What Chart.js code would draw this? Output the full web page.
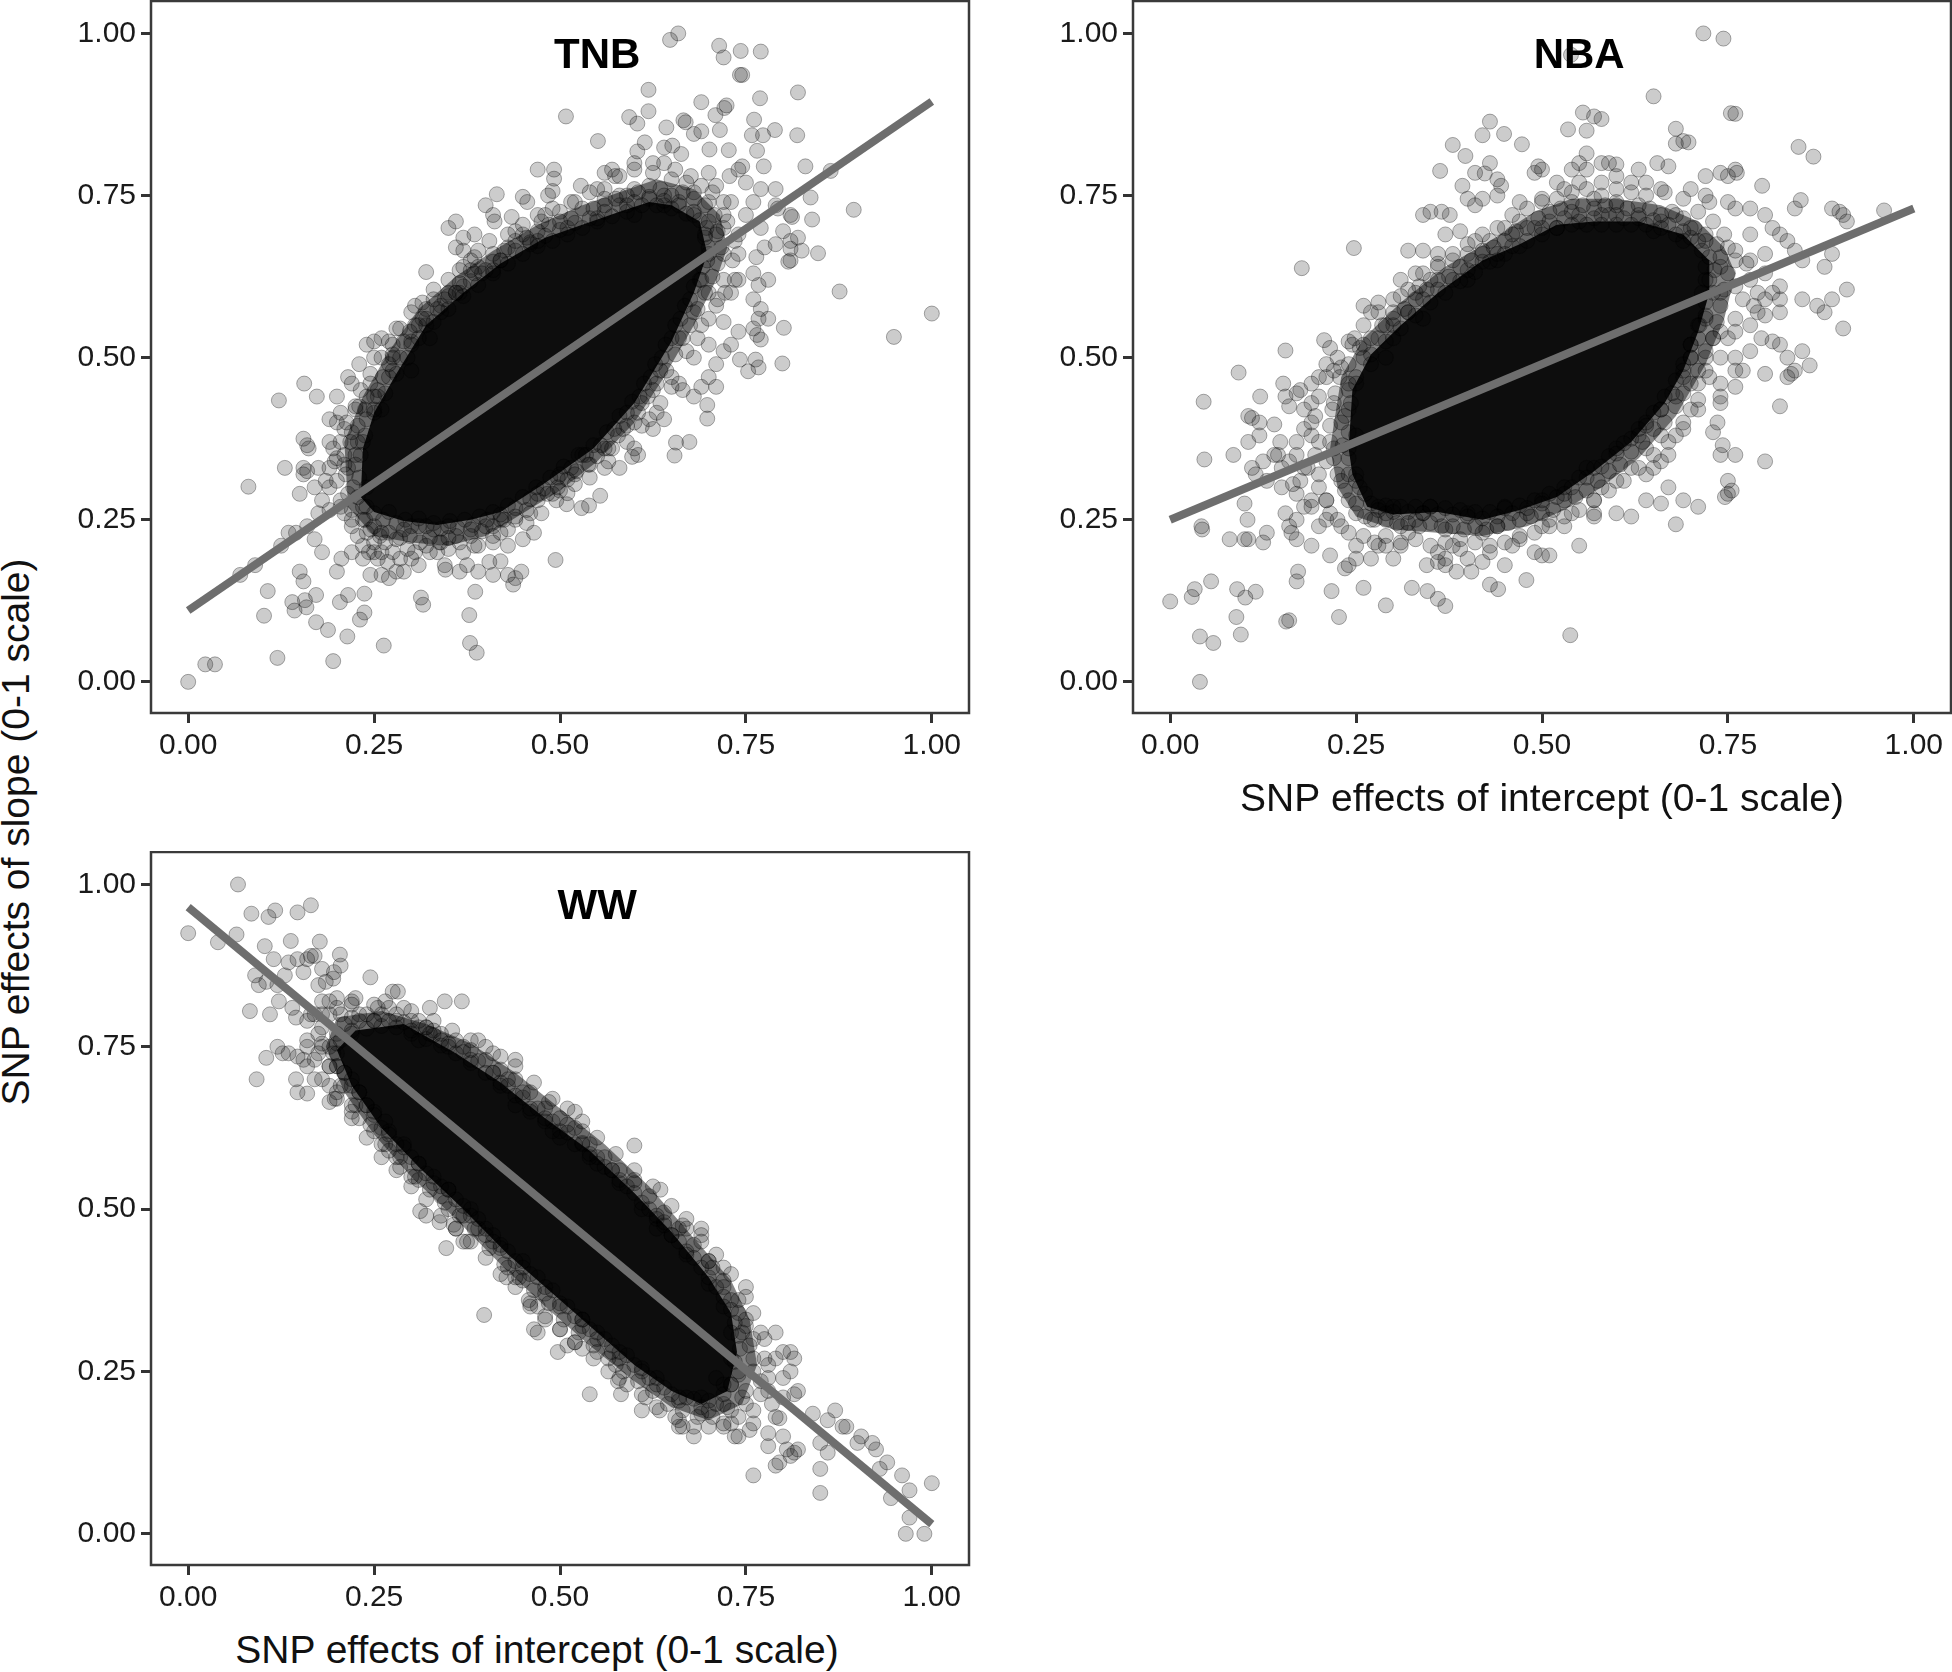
<!DOCTYPE html>
<html>
<head>
<meta charset="utf-8">
<script src="https://cdn.jsdelivr.net/npm/chart.js@4"></script>
<style>
body { margin: 0; background: #fff; width: 1952px; height: 1672px; overflow: hidden; position: relative; }
canvas { position: absolute; }
.lab { position: absolute; transform: translate(-50%, -50%); white-space: nowrap;
  font: 39px "Liberation Sans", Arial, sans-serif; color: #111; }
#ylab { left: 16px; top: 832px; transform: translate(-50%, -50%) rotate(-90deg); }
#xlab { left: 537px; top: 1650px; }
</style>
</head>
<body>
<div id="ylab" class="lab">SNP effects of slope (0-1 scale)</div>
<div id="xlab" class="lab">SNP effects of intercept (0-1 scale)</div>
<canvas id="tnb" width="920" height="762" style="left:60px;top:0"></canvas>
<canvas id="nba" width="912" height="824" style="left:1040px;top:0"></canvas>
<canvas id="ww" width="920" height="763" style="left:60px;top:851px"></canvas>
<script>
const tickValues = [0, 0.25, 0.5, 0.75, 1];
const xTitle = 'SNP effects of intercept (0-1 scale)';

// fitted lines at x = 0 and x = 1
const tnbLine = [[0, 0.11], [1, 0.895]];
const nbaLine = [[0, 0.25], [1, 0.73]];
const wwLine = [[0, 0.965], [1, 0.015]];

// the saturated middle of each cloud: thousands of overlapping dots that cannot be read one by one,
// so it is kept as a traced outline, with a second one for the half dark zone around it
const tnbCore = [[0.232,0.285],[0.25,0.262],[0.29,0.248],[0.335,0.242],[0.38,0.25],[0.42,0.262],[0.478,0.305],[0.545,0.36],[0.6,0.43],[0.65,0.525],[0.68,0.6],[0.698,0.66],[0.688,0.71],[0.65,0.735],[0.62,0.74],[0.58,0.725],[0.53,0.705],[0.48,0.685],[0.42,0.645],[0.37,0.6],[0.32,0.55],[0.28,0.475],[0.25,0.415],[0.235,0.36]];
const tnbHalo = [[0.215,0.27],[0.25,0.225],[0.3,0.215],[0.35,0.21],[0.4,0.225],[0.45,0.26],[0.5,0.295],[0.55,0.34],[0.6,0.4],[0.64,0.47],[0.68,0.55],[0.71,0.62],[0.725,0.67],[0.715,0.72],[0.68,0.76],[0.63,0.775],[0.58,0.755],[0.53,0.735],[0.47,0.705],[0.41,0.665],[0.36,0.625],[0.31,0.575],[0.27,0.51],[0.235,0.44],[0.21,0.37]];
const nbaCore = [[0.24,0.36],[0.245,0.32],[0.265,0.27],[0.3,0.258],[0.36,0.262],[0.42,0.25],[0.47,0.265],[0.52,0.285],[0.57,0.325],[0.62,0.37],[0.665,0.43],[0.69,0.48],[0.71,0.54],[0.725,0.6],[0.725,0.65],[0.69,0.69],[0.63,0.71],[0.57,0.71],[0.52,0.705],[0.47,0.675],[0.42,0.65],[0.36,0.6],[0.31,0.55],[0.27,0.505],[0.245,0.45]];
const nbaHalo = [[0.215,0.36],[0.225,0.3],[0.25,0.255],[0.3,0.235],[0.36,0.23],[0.42,0.225],[0.48,0.24],[0.53,0.265],[0.58,0.3],[0.63,0.345],[0.68,0.41],[0.72,0.49],[0.745,0.56],[0.76,0.63],[0.745,0.67],[0.71,0.71],[0.66,0.735],[0.6,0.745],[0.54,0.745],[0.49,0.725],[0.43,0.68],[0.37,0.64],[0.31,0.585],[0.26,0.53],[0.23,0.47]];
const wwCore = [[0.2,0.745],[0.225,0.775],[0.29,0.785],[0.36,0.74],[0.42,0.695],[0.48,0.64],[0.54,0.59],[0.6,0.525],[0.65,0.465],[0.7,0.395],[0.73,0.34],[0.738,0.28],[0.725,0.22],[0.69,0.2],[0.65,0.22],[0.6,0.26],[0.55,0.31],[0.49,0.37],[0.43,0.43],[0.37,0.5],[0.31,0.565],[0.26,0.625],[0.22,0.69]];
const wwHalo = [[0.185,0.75],[0.2,0.795],[0.26,0.805],[0.32,0.785],[0.38,0.755],[0.44,0.71],[0.5,0.655],[0.56,0.6],[0.62,0.535],[0.68,0.455],[0.73,0.39],[0.755,0.33],[0.765,0.26],[0.745,0.2],[0.7,0.175],[0.65,0.195],[0.6,0.235],[0.54,0.29],[0.48,0.35],[0.42,0.415],[0.36,0.485],[0.3,0.55],[0.25,0.615],[0.21,0.68]];

// dots crowded along the edge of the outlines, estimated
const tnbEdge = [
[0.24,0.27],[0.25,0.26],[0.262,0.25],[0.27,0.262],[0.28,0.245],[0.292,0.25],[0.3,0.24],[0.31,0.252],[0.32,0.24],[0.33,0.245],[0.34,0.236],[0.352,0.248],[0.362,0.238],[0.372,0.25],[0.383,0.242],[0.392,0.255],[0.402,0.25],[0.41,0.262],[0.42,0.258],[0.43,0.272],[0.44,0.268],[0.45,0.285],[0.46,0.282],[0.468,0.3],[0.478,0.298],[0.487,0.315],[0.497,0.315],[0.505,0.332],[0.515,0.33],[0.525,0.35],[0.535,0.35],[0.545,0.365],[0.555,0.365],[0.563,0.385],[0.573,0.39],[0.58,0.41],[0.59,0.415],[0.597,0.432],[0.607,0.44],[0.613,0.46],[0.622,0.47],[0.628,0.49],[0.637,0.5],[0.642,0.52],[0.65,0.53],[0.655,0.55],[0.662,0.56],[0.668,0.58],[0.675,0.59],[0.68,0.61],[0.688,0.62],[0.692,0.64],[0.698,0.65],[0.7,0.67],[0.695,0.685],[0.697,0.7],[0.688,0.712],[0.68,0.725],[0.67,0.722],[0.66,0.735],[0.65,0.73],[0.64,0.742],[0.63,0.735],[0.62,0.748],[0.61,0.735],[0.6,0.74],[0.59,0.725],[0.58,0.735],[0.57,0.718],[0.56,0.725],[0.55,0.71],[0.54,0.715],[0.53,0.7],[0.52,0.708],[0.51,0.69],[0.5,0.697],[0.49,0.68],[0.48,0.688],[0.47,0.672],[0.46,0.678],[0.45,0.66],[0.44,0.665],[0.43,0.645],[0.42,0.65],[0.41,0.63],[0.4,0.635],[0.39,0.612],[0.38,0.618],[0.37,0.595],[0.36,0.6],[0.35,0.575],[0.34,0.58],[0.33,0.555],[0.32,0.56],[0.31,0.53],[0.3,0.525],[0.295,0.5],[0.285,0.5],[0.28,0.475],[0.27,0.47],[0.265,0.445],[0.255,0.44],[0.25,0.415],[0.24,0.405],[0.238,0.38],[0.228,0.37],[0.232,0.35],[0.225,0.335],[0.23,0.315],[0.222,0.3],[0.228,0.285],
[0.235,0.25],[0.245,0.235],[0.258,0.225],[0.27,0.23],[0.285,0.222],[0.298,0.225],[0.312,0.215],[0.325,0.222],[0.338,0.215],[0.35,0.222],[0.365,0.215],[0.38,0.225],[0.395,0.232],[0.41,0.24],[0.425,0.25],[0.44,0.255],[0.455,0.265],[0.47,0.28],[0.483,0.29],[0.497,0.3],[0.51,0.312],[0.522,0.325],[0.538,0.335],[0.55,0.348],[0.565,0.36],[0.578,0.38],[0.59,0.395],[0.605,0.415],[0.618,0.44],[0.63,0.46],[0.643,0.48],[0.655,0.505],[0.665,0.53],[0.675,0.55],[0.685,0.575],[0.695,0.6],[0.705,0.625],[0.712,0.645],[0.717,0.67],[0.712,0.695],[0.708,0.72],[0.695,0.735],[0.68,0.745],[0.665,0.755],[0.65,0.75],[0.635,0.76],[0.62,0.765],[0.605,0.755],[0.59,0.75],[0.575,0.745],[0.56,0.745],[0.545,0.73],[0.53,0.73],[0.515,0.715],[0.5,0.71],[0.485,0.705],[0.47,0.695],[0.455,0.685],[0.44,0.68],[0.425,0.665],[0.41,0.648],[0.395,0.63],[0.38,0.635],[0.365,0.615],[0.35,0.6],[0.335,0.575],[0.32,0.575],[0.305,0.55],[0.29,0.525],[0.275,0.5],[0.262,0.47],[0.25,0.44],[0.238,0.42],[0.228,0.395],[0.218,0.37],[0.21,0.35],[0.212,0.32],[0.215,0.29],[0.22,0.265],
[0.22,0.24],[0.228,0.225],[0.235,0.21],[0.243,0.2],[0.25,0.215],[0.26,0.2],[0.268,0.185],[0.275,0.2],[0.285,0.19],[0.295,0.205],[0.305,0.2],[0.32,0.21],[0.335,0.2],[0.35,0.205],[0.37,0.2],[0.39,0.21],[0.41,0.225],[0.43,0.235],[0.455,0.245],[0.475,0.26],[0.495,0.28],[0.52,0.305],[0.54,0.315],[0.565,0.34],[0.59,0.37],[0.61,0.395],[0.635,0.43],[0.65,0.455],[0.67,0.51],[0.685,0.53],[0.7,0.56],[0.712,0.59],[0.722,0.6],[0.735,0.62],[0.732,0.65],[0.735,0.68],[0.725,0.71],[0.72,0.74],[0.705,0.755],[0.69,0.765],[0.67,0.77],[0.65,0.775],[0.625,0.785],[0.6,0.79],[0.58,0.78],[0.56,0.76],[0.54,0.755],[0.515,0.74],[0.49,0.73],[0.47,0.72],[0.45,0.705],[0.43,0.69],[0.405,0.68],[0.385,0.655],[0.37,0.64],[0.35,0.62],[0.33,0.605],[0.315,0.585],[0.3,0.57],[0.285,0.545],[0.27,0.525],[0.26,0.5],[0.245,0.475],[0.232,0.45],[0.225,0.425],[0.213,0.4],[0.205,0.37],[0.197,0.34],[0.2,0.31],[0.205,0.28],[0.21,0.26],[0.19,0.3],[0.18,0.28],[0.185,0.31],[0.195,0.36],[0.17,0.3],[0.2,0.44],[0.215,0.47],[0.23,0.49],[0.25,0.5]
];
const nbaEdge = [
[0.255,0.3],[0.262,0.29],[0.27,0.275],[0.28,0.265],[0.29,0.272],[0.3,0.262],[0.31,0.27],[0.32,0.262],[0.33,0.27],[0.34,0.26],[0.35,0.27],[0.36,0.258],[0.37,0.268],[0.38,0.258],[0.39,0.265],[0.4,0.255],[0.41,0.262],[0.42,0.252],[0.43,0.262],[0.44,0.255],[0.45,0.268],[0.46,0.26],[0.47,0.272],[0.48,0.268],[0.49,0.28],[0.5,0.275],[0.51,0.29],[0.52,0.285],[0.53,0.3],[0.54,0.3],[0.55,0.315],[0.56,0.315],[0.57,0.33],[0.58,0.332],[0.59,0.348],[0.6,0.352],[0.61,0.368],[0.62,0.375],[0.63,0.39],[0.64,0.395],[0.65,0.415],[0.66,0.42],[0.665,0.44],[0.675,0.445],[0.68,0.465],[0.69,0.47],[0.69,0.49],[0.7,0.5],[0.7,0.52],[0.71,0.53],[0.712,0.55],[0.72,0.565],[0.72,0.585],[0.73,0.6],[0.725,0.62],[0.732,0.635],[0.725,0.655],[0.715,0.665],[0.71,0.68],[0.7,0.685],[0.69,0.695],[0.68,0.69],[0.67,0.705],[0.66,0.7],[0.65,0.712],[0.64,0.705],[0.63,0.715],[0.62,0.705],[0.61,0.715],[0.6,0.705],[0.59,0.72],[0.58,0.705],[0.57,0.715],[0.56,0.705],[0.55,0.72],[0.54,0.705],[0.53,0.715],[0.52,0.7],[0.51,0.71],[0.5,0.69],[0.49,0.7],[0.48,0.68],[0.47,0.672],[0.46,0.672],[0.45,0.66],[0.44,0.66],[0.43,0.648],[0.42,0.648],[0.41,0.632],[0.4,0.635],[0.39,0.618],[0.38,0.62],[0.37,0.6],[0.36,0.605],[0.35,0.585],[0.34,0.59],[0.33,0.565],[0.32,0.57],[0.31,0.545],[0.3,0.55],[0.29,0.525],[0.28,0.53],[0.27,0.505],[0.26,0.5],[0.25,0.47],[0.24,0.46],[0.243,0.43],[0.235,0.41],[0.24,0.385],[0.232,0.365],[0.24,0.345],[0.24,0.32],
[0.235,0.295],[0.25,0.275],[0.262,0.255],[0.275,0.25],[0.29,0.25],[0.305,0.245],[0.32,0.245],[0.335,0.24],[0.35,0.245],[0.365,0.24],[0.38,0.24],[0.395,0.235],[0.41,0.24],[0.425,0.235],[0.44,0.24],[0.455,0.245],[0.47,0.25],[0.485,0.255],[0.5,0.26],[0.515,0.265],[0.53,0.28],[0.545,0.285],[0.56,0.295],[0.575,0.31],[0.59,0.325],[0.605,0.335],[0.62,0.355],[0.635,0.37],[0.65,0.39],[0.665,0.4],[0.68,0.425],[0.69,0.445],[0.7,0.46],[0.71,0.48],[0.72,0.51],[0.73,0.53],[0.735,0.555],[0.74,0.58],[0.745,0.605],[0.75,0.63],[0.74,0.655],[0.735,0.675],[0.72,0.69],[0.705,0.7],[0.69,0.715],[0.675,0.725],[0.66,0.72],[0.645,0.73],[0.63,0.735],[0.615,0.73],[0.6,0.735],[0.585,0.735],[0.57,0.73],[0.555,0.735],[0.54,0.725],[0.525,0.73],[0.51,0.725],[0.495,0.715],[0.48,0.7],[0.465,0.695],[0.45,0.68],[0.435,0.67],[0.42,0.665],[0.405,0.65],[0.39,0.64],[0.375,0.625],[0.36,0.62],[0.345,0.605],[0.33,0.59],[0.315,0.575],[0.3,0.57],[0.285,0.55],[0.27,0.53],[0.255,0.515],[0.24,0.49],[0.228,0.47],[0.222,0.445],[0.218,0.42],[0.215,0.395],[0.215,0.37],[0.22,0.345],[0.225,0.32],
[0.2,0.3],[0.21,0.28],[0.215,0.26],[0.225,0.25],[0.24,0.23],[0.26,0.225],[0.275,0.215],[0.29,0.225],[0.31,0.215],[0.33,0.22],[0.35,0.21],[0.37,0.215],[0.39,0.205],[0.41,0.215],[0.43,0.2],[0.45,0.215],[0.47,0.225],[0.49,0.23],[0.51,0.24],[0.53,0.255],[0.55,0.265],[0.57,0.28],[0.59,0.295],[0.61,0.31],[0.63,0.33],[0.65,0.35],[0.67,0.37],[0.69,0.4],[0.71,0.435],[0.725,0.47],[0.74,0.5],[0.75,0.53],[0.76,0.56],[0.77,0.59],[0.78,0.62],[0.775,0.645],[0.76,0.665],[0.745,0.69],[0.73,0.71],[0.71,0.725],[0.69,0.745],[0.665,0.755],[0.64,0.75],[0.62,0.755],[0.6,0.76],[0.58,0.75],[0.56,0.76],[0.54,0.755],[0.52,0.745],[0.5,0.74],[0.48,0.73],[0.46,0.72],[0.44,0.7],[0.42,0.69],[0.4,0.675],[0.38,0.66],[0.36,0.645],[0.34,0.63],[0.32,0.605],[0.3,0.59],[0.28,0.57],[0.26,0.55],[0.245,0.52],[0.225,0.5],[0.21,0.47],[0.2,0.44],[0.195,0.41],[0.19,0.38],[0.195,0.35],[0.185,0.33],[0.17,0.35],[0.16,0.34],[0.175,0.31],[0.19,0.28],[0.17,0.29],[0.15,0.33],[0.18,0.42],[0.19,0.46],[0.79,0.6],[0.8,0.63],[0.785,0.58]
];
const wwEdge = [
[0.2,0.77],[0.21,0.785],[0.22,0.775],[0.23,0.79],[0.24,0.778],[0.25,0.79],[0.26,0.782],[0.27,0.79],[0.28,0.78],[0.29,0.788],[0.3,0.775],[0.31,0.78],[0.32,0.762],[0.33,0.768],[0.34,0.752],[0.35,0.755],[0.36,0.74],[0.37,0.742],[0.38,0.725],[0.39,0.728],[0.4,0.71],[0.41,0.71],[0.42,0.695],[0.43,0.69],[0.44,0.675],[0.45,0.672],[0.46,0.655],[0.47,0.655],[0.48,0.635],[0.49,0.635],[0.5,0.62],[0.51,0.618],[0.52,0.6],[0.53,0.602],[0.54,0.585],[0.55,0.58],[0.56,0.565],[0.57,0.56],[0.58,0.545],[0.59,0.535],[0.6,0.525],[0.61,0.51],[0.62,0.5],[0.63,0.485],[0.64,0.475],[0.65,0.46],[0.66,0.45],[0.67,0.435],[0.68,0.425],[0.69,0.41],[0.7,0.395],[0.71,0.38],[0.72,0.365],[0.73,0.345],[0.735,0.325],[0.74,0.305],[0.742,0.285],[0.735,0.265],[0.74,0.245],[0.73,0.23],[0.72,0.215],[0.71,0.2],[0.7,0.205],[0.69,0.195],[0.68,0.208],[0.67,0.21],[0.66,0.205],[0.65,0.215],[0.64,0.225],[0.63,0.24],[0.62,0.24],[0.61,0.255],[0.6,0.26],[0.59,0.275],[0.58,0.27],[0.57,0.29],[0.56,0.3],[0.55,0.31],[0.54,0.315],[0.53,0.33],[0.52,0.335],[0.51,0.35],[0.5,0.355],[0.49,0.375],[0.48,0.38],[0.47,0.395],[0.46,0.4],[0.45,0.41],[0.44,0.42],[0.43,0.435],[0.42,0.445],[0.41,0.46],[0.4,0.47],[0.39,0.485],[0.38,0.49],[0.37,0.505],[0.36,0.515],[0.35,0.53],[0.34,0.535],[0.33,0.55],[0.32,0.555],[0.31,0.57],[0.3,0.58],[0.29,0.595],[0.28,0.6],[0.27,0.615],[0.26,0.625],[0.25,0.645],[0.24,0.66],[0.23,0.68],[0.22,0.69],[0.21,0.71],[0.2,0.72],[0.195,0.74],[0.2,0.755],
[0.18,0.78],[0.19,0.8],[0.205,0.8],[0.22,0.795],[0.24,0.8],[0.26,0.8],[0.28,0.8],[0.3,0.79],[0.32,0.78],[0.34,0.77],[0.36,0.76],[0.38,0.745],[0.4,0.73],[0.42,0.715],[0.44,0.7],[0.46,0.68],[0.48,0.655],[0.5,0.64],[0.52,0.625],[0.54,0.6],[0.56,0.58],[0.58,0.56],[0.6,0.54],[0.62,0.52],[0.64,0.495],[0.66,0.47],[0.68,0.445],[0.7,0.42],[0.72,0.38],[0.74,0.36],[0.75,0.32],[0.755,0.29],[0.76,0.25],[0.745,0.21],[0.725,0.195],[0.705,0.18],[0.685,0.18],[0.665,0.19],[0.645,0.2],[0.625,0.22],[0.605,0.235],[0.585,0.25],[0.565,0.27],[0.545,0.29],[0.525,0.31],[0.505,0.33],[0.485,0.355],[0.465,0.375],[0.445,0.395],[0.425,0.415],[0.405,0.44],[0.385,0.47],[0.365,0.49],[0.345,0.51],[0.325,0.53],[0.305,0.55],[0.285,0.58],[0.265,0.6],[0.245,0.63],[0.225,0.66],[0.205,0.69],[0.19,0.72],[0.18,0.75],
[0.17,0.8],[0.18,0.82],[0.2,0.825],[0.22,0.815],[0.25,0.815],[0.27,0.81],[0.3,0.805],[0.33,0.79],[0.355,0.775],[0.38,0.76],[0.4,0.75],[0.42,0.735],[0.44,0.72],[0.465,0.695],[0.49,0.67],[0.51,0.655],[0.53,0.635],[0.55,0.61],[0.575,0.585],[0.6,0.56],[0.625,0.535],[0.65,0.505],[0.67,0.485],[0.69,0.46],[0.71,0.43],[0.73,0.4],[0.75,0.365],[0.76,0.34],[0.77,0.31],[0.775,0.27],[0.78,0.24],[0.77,0.215],[0.76,0.19],[0.74,0.18],[0.72,0.17],[0.7,0.165],[0.68,0.165],[0.655,0.18],[0.63,0.195],[0.61,0.215],[0.59,0.23],[0.565,0.25],[0.545,0.27],[0.52,0.295],[0.5,0.315],[0.48,0.335],[0.46,0.355],[0.44,0.38],[0.42,0.4],[0.4,0.425],[0.38,0.45],[0.36,0.47],[0.34,0.49],[0.32,0.515],[0.3,0.535],[0.28,0.56],[0.26,0.58],[0.24,0.61],[0.22,0.64],[0.2,0.67],[0.18,0.7],[0.17,0.73],[0.16,0.76],[0.175,0.74],[0.16,0.72],[0.17,0.7],[0.19,0.69]
];

// dots read one at a time around the outline
const tnbPoints = [
[0,0],[0.023,0.027],[0.036,0.027],[0.081,0.301],[0.107,0.14],[0.102,0.102],[0.12,0.037],[0.122,0.434],[0.156,0.46],[0.173,0.44],[0.14,0.123],[0.143,0.11],[0.157,0.126],[0.159,0.115],[0.172,0.134],[0.172,0.092],[0.188,0.08],[0.195,0.032],[0.204,0.123],[0.215,0.134],[0.214,0.07],[0.231,0.096],[0.237,0.107],[0.237,0.136],[0.263,0.056],[0.313,0.13],[0.316,0.119],[0.378,0.103],[0.379,0.06],[0.388,0.045],[0.386,0.139],[0.494,0.188],
[0.648,0.99],[0.659,1],[0.714,0.981],[0.72,0.963],[0.743,0.973],[0.77,0.972],[0.742,0.936],[0.745,0.936],[0.619,0.913],[0.82,0.909],[0.508,0.872],[0.619,0.88],[0.69,0.894],[0.769,0.9],[0.721,0.885],[0.709,0.874],[0.724,0.889],[0.593,0.871],[0.604,0.861],[0.643,0.855],[0.666,0.866],[0.669,0.863],[0.68,0.845],[0.69,0.849],[0.715,0.851],[0.761,0.867],[0.758,0.843],[0.773,0.843],[0.789,0.851],[0.819,0.843],[0.551,0.834],[0.614,0.832],[0.64,0.824],[0.651,0.827],[0.663,0.814],[0.604,0.818],[0.701,0.821],[0.727,0.82],[0.765,0.819],[0.83,0.795],[0.864,0.788],[0.774,0.795],[0.895,0.728],[0.876,0.602],[1,0.568],[0.949,0.532],[0.847,0.661],[0.839,0.713],[0.837,0.747],[0.801,0.546],[0.799,0.491],[0.767,0.485],[0.753,0.479],[0.742,0.497],[0.763,0.497],[0.698,0.427],[0.698,0.406],[0.674,0.37],[0.656,0.369],[0.654,0.349],[0.554,0.287],[0.539,0.272],[0.529,0.268],[0.509,0.274],[0.51,0.291],
[0.47,0.79],[0.492,0.79],[0.492,0.776],[0.49,0.757],[0.484,0.75],[0.415,0.752],[0.4,0.735],[0.45,0.748],[0.456,0.74],[0.41,0.72],[0.412,0.71],[0.435,0.717],[0.48,0.72],[0.5,0.725],[0.52,0.74],[0.55,0.76],[0.528,0.765],[0.56,0.785],[0.57,0.79],[0.6,0.8],[0.574,0.78],[0.625,0.8],[0.64,0.8],[0.655,0.79],[0.676,0.78],[0.7,0.785],[0.728,0.78],[0.74,0.79],[0.745,0.795],[0.75,0.77],[0.77,0.76],[0.79,0.76],[0.79,0.735],[0.793,0.73],[0.81,0.72],[0.812,0.717],[0.76,0.74],[0.73,0.74],[0.71,0.765],[0.68,0.755],[0.64,0.75],[0.6,0.76],[0.58,0.75],[0.56,0.735],[0.59,0.735],[0.62,0.745],[0.66,0.74],[0.7,0.74],[0.72,0.72],[0.75,0.72],[0.77,0.7],[0.8,0.695],[0.81,0.68],[0.82,0.685],[0.81,0.668],[0.825,0.665],[0.79,0.675],[0.775,0.67],[0.764,0.655],[0.81,0.65],[0.807,0.648],[0.76,0.63],[0.767,0.612],[0.78,0.62],[0.76,0.59],[0.77,0.575],[0.767,0.56],[0.78,0.56],[0.76,0.545],[0.765,0.535],[0.77,0.528],[0.74,0.54],[0.72,0.555],[0.73,0.52],[0.72,0.51],[0.71,0.49],[0.7,0.47],[0.71,0.455],[0.69,0.455],[0.665,0.45],[0.68,0.44],[0.66,0.46],[0.63,0.415],[0.64,0.405],[0.62,0.405],[0.625,0.39],[0.6,0.36],[0.597,0.347],[0.605,0.35],[0.58,0.33],[0.56,0.33],[0.54,0.335],[0.52,0.32],[0.5,0.295],[0.49,0.29],[0.46,0.26],[0.44,0.25],[0.42,0.23],[0.4,0.24],[0.41,0.215],[0.385,0.21],[0.36,0.225],[0.34,0.215],[0.345,0.18],[0.346,0.173],[0.365,0.17],[0.325,0.2],[0.3,0.19],[0.28,0.17],[0.27,0.16],[0.26,0.165],[0.245,0.165],[0.29,0.17],[0.31,0.18],[0.41,0.165],[0.405,0.185],[0.42,0.186],[0.43,0.165],[0.44,0.16],[0.448,0.17],[0.437,0.15],[0.43,0.21],[0.45,0.22],[0.465,0.23],[0.375,0.18],[0.39,0.17],
[0.2,0.17],[0.206,0.19],[0.22,0.2],[0.18,0.2],[0.17,0.22],[0.16,0.24],[0.145,0.23],[0.135,0.23],[0.125,0.21],[0.09,0.18],[0.07,0.165],[0.15,0.17],[0.155,0.155],[0.235,0.19],[0.25,0.2],[0.26,0.23],[0.24,0.23],[0.22,0.25],[0.205,0.27],[0.19,0.265],[0.175,0.26],[0.155,0.33],[0.16,0.325],[0.13,0.33],[0.16,0.365],[0.155,0.375],[0.162,0.36],[0.15,0.29],[0.155,0.32],[0.175,0.33],[0.19,0.33],[0.19,0.37],[0.2,0.345],[0.21,0.335],[0.215,0.33],[0.225,0.35],[0.2,0.4],[0.19,0.405],[0.205,0.415],[0.21,0.39],[0.22,0.385],[0.225,0.42],[0.23,0.425],[0.22,0.46],[0.24,0.44],[0.245,0.46],[0.255,0.45],[0.26,0.42],[0.24,0.52],[0.25,0.525],[0.275,0.52],[0.28,0.545],[0.26,0.53],[0.275,0.505],[0.3,0.52],[0.298,0.54],[0.31,0.55],[0.315,0.56],[0.3,0.48],[0.27,0.49],[0.305,0.58],[0.32,0.632],[0.33,0.59],[0.345,0.59],[0.35,0.595],[0.36,0.6],[0.34,0.57],[0.325,0.53],[0.37,0.61],[0.365,0.635],[0.38,0.65],[0.39,0.665],[0.36,0.67],[0.37,0.665],[0.385,0.63],[0.41,0.66],[0.43,0.67],[0.45,0.69],[0.475,0.71],[0.44,0.695],[0.47,0.68],[0.35,0.7],[0.36,0.71],[0.37,0.685],[0.385,0.69],[0.39,0.64],[0.42,0.65],
[0.24,0.3],[0.235,0.27],[0.238,0.25],[0.25,0.24],[0.265,0.215],[0.255,0.19],[0.28,0.22],[0.29,0.235],[0.31,0.24],[0.33,0.235],[0.35,0.24],[0.38,0.235],[0.42,0.25],[0.47,0.29],[0.5,0.32],[0.53,0.35],[0.56,0.36],[0.585,0.39],[0.61,0.43],[0.635,0.48],[0.66,0.53],[0.68,0.57],[0.69,0.62],[0.7,0.66],[0.695,0.69],[0.68,0.72],[0.64,0.735],[0.6,0.72],[0.55,0.715],[0.51,0.7],[0.46,0.675],[0.41,0.635],[0.365,0.6],[0.32,0.55],[0.275,0.48],[0.25,0.42],[0.235,0.37],
[0.72,0.62],[0.72,0.66],[0.71,0.69],[0.7,0.71],[0.72,0.7],[0.74,0.69],[0.74,0.66],[0.74,0.62],[0.73,0.6],[0.71,0.58],[0.7,0.6],[0.69,0.55],[0.7,0.52],[0.68,0.5],[0.65,0.47],[0.625,0.45],[0.6,0.4],[0.57,0.36]
];
const nbaPoints = [
[0,0.124],[0.029,0.131],[0.033,0.143],[0.055,0.155],[0.09,0.143],[0.101,0.13],[0.115,0.139],[0.089,0.1],[0.095,0.073],[0.04,0.07],[0.058,0.06],[0.04,0],[0.156,0.093],[0.16,0.095],[0.227,0.1],[0.29,0.118],[0.37,0.117],[0.36,0.128],[0.325,0.145],[0.346,0.14],[0.26,0.145],[0.217,0.14],[0.17,0.155],[0.172,0.17],[0.538,0.072],[0.43,0.15],[0.441,0.143],[0.479,0.157],[0.45,0.18],[0.42,0.185],[0.405,0.17],[0.385,0.17],[0.37,0.18],[0.345,0.18],[0.36,0.185],
[0.717,1],[0.744,0.992],[0.539,0.967],[0.65,0.903],[0.754,0.877],[0.76,0.876],[0.555,0.878],[0.57,0.872],[0.58,0.868],[0.535,0.852],[0.56,0.85],[0.43,0.864],[0.42,0.843],[0.449,0.845],[0.473,0.829],[0.38,0.828],[0.397,0.811],[0.68,0.853],[0.68,0.83],[0.69,0.834],[0.697,0.832],[0.845,0.825],[0.865,0.81],[0.56,0.815],[0.58,0.8],[0.59,0.8],[0.6,0.798],[0.63,0.79],[0.655,0.8],[0.67,0.795],[0.43,0.8],[0.423,0.784],[0.41,0.785],[0.363,0.788],[0.495,0.795],[0.5,0.79],[0.49,0.785],[0.54,0.79],[0.55,0.8],[0.56,0.79],[0.52,0.77],[0.53,0.76],[0.55,0.77],[0.58,0.77],[0.6,0.78],[0.62,0.77],[0.64,0.77],[0.66,0.76],[0.7,0.76],[0.72,0.78],[0.74,0.785],[0.75,0.78],[0.76,0.79],[0.762,0.785],[0.796,0.765],[0.44,0.775],[0.445,0.765],[0.393,0.765],[0.4,0.745],[0.41,0.735],[0.42,0.745],[0.44,0.75],[0.47,0.74],[0.5,0.745],[0.54,0.74],[0.57,0.745],[0.6,0.74],[0.72,0.75],[0.725,0.74],[0.75,0.74],[0.76,0.73],[0.78,0.73],[0.8,0.72],[0.848,0.743],[0.84,0.73],[0.89,0.73],[0.9,0.725],[0.905,0.72],[0.91,0.71],[0.96,0.727],[0.35,0.725],[0.34,0.72],[0.365,0.725],[0.376,0.72],[0.247,0.669],[0.177,0.638],[0.32,0.665],[0.34,0.665],[0.36,0.66],[0.37,0.69],[0.39,0.695],[0.41,0.68],[0.43,0.68],[0.45,0.7],[0.47,0.71],[0.33,0.63],[0.31,0.62],[0.335,0.61],[0.33,0.6],[0.35,0.62],[0.31,0.595],[0.28,0.585],[0.26,0.58],[0.27,0.57],[0.29,0.55],[0.3,0.56],[0.32,0.57],[0.36,0.64],[0.38,0.65],[0.4,0.66],[0.42,0.66],
[0.207,0.527],[0.215,0.515],[0.24,0.525],[0.248,0.53],[0.26,0.52],[0.21,0.49],[0.22,0.48],[0.23,0.485],[0.2,0.47],[0.155,0.511],[0.092,0.477],[0.045,0.432],[0.121,0.44],[0.152,0.46],[0.155,0.44],[0.16,0.425],[0.17,0.445],[0.175,0.45],[0.19,0.43],[0.105,0.41],[0.11,0.407],[0.12,0.4],[0.14,0.397],[0.12,0.38],[0.105,0.37],[0.046,0.343],[0.085,0.35],[0.11,0.33],[0.125,0.34],[0.14,0.35],[0.145,0.35],[0.148,0.37],[0.17,0.37],[0.18,0.39],[0.19,0.4],[0.2,0.37],[0.22,0.43],[0.24,0.45],[0.23,0.4],[0.25,0.38],[0.22,0.36],[0.115,0.32],[0.13,0.31],[0.15,0.3],[0.165,0.305],[0.18,0.33],[0.2,0.32],[0.21,0.34],[0.155,0.26],[0.17,0.25],[0.18,0.27],[0.19,0.27],[0.17,0.22],[0.163,0.23],[0.19,0.21],[0.2,0.24],[0.21,0.25],[0.21,0.28],[0.24,0.28],[0.23,0.31],[0.25,0.31],[0.1,0.275],[0.104,0.25],[0.105,0.22],[0.1,0.22],[0.08,0.22],[0.042,0.24],[0.043,0.235],[0.125,0.215],[0.13,0.23],[0.16,0.24],[0.23,0.24],[0.25,0.21],[0.215,0.195],[0.24,0.18],[0.235,0.175],[0.25,0.19],[0.27,0.19],[0.28,0.21],[0.29,0.21],[0.3,0.19],[0.31,0.21],[0.31,0.24],[0.33,0.25],[0.36,0.2],[0.37,0.19],[0.38,0.21],[0.39,0.22],[0.4,0.19],[0.42,0.23],[0.43,0.21],[0.44,0.24],[0.46,0.21],[0.47,0.22],[0.49,0.2],[0.5,0.195],[0.51,0.195],[0.5,0.24],[0.51,0.25],[0.53,0.24],[0.54,0.26],[0.55,0.21],[0.57,0.26],[0.57,0.255],[0.6,0.26],[0.62,0.255],[0.48,0.26],[0.34,0.26],[0.29,0.26],[0.32,0.23],[0.37,0.235],[0.27,0.25],[0.25,0.26],
[0.64,0.28],[0.66,0.275],[0.69,0.28],[0.68,0.243],[0.71,0.27],[0.746,0.285],[0.75,0.29],[0.755,0.295],[0.75,0.31],[0.67,0.3],[0.64,0.32],[0.62,0.33],[0.58,0.3],[0.57,0.28],[0.6,0.31],[0.65,0.33],[0.66,0.34],[0.67,0.35],[0.64,0.36],[0.68,0.38],[0.69,0.39],[0.7,0.42],[0.71,0.42],[0.66,0.38],[0.64,0.4],[0.74,0.35],[0.743,0.365],[0.76,0.35],[0.73,0.385],[0.736,0.4],[0.74,0.44],[0.74,0.43],[0.76,0.455],[0.8,0.34],[0.82,0.425],[0.77,0.48],[0.76,0.48],[0.8,0.475],[0.83,0.47],[0.835,0.475],[0.84,0.48],[0.86,0.488],[0.83,0.5],[0.85,0.51],[0.82,0.52],[0.81,0.525],[0.795,0.53],[0.78,0.51],[0.76,0.5],[0.72,0.5],[0.72,0.48],[0.71,0.46],[0.74,0.46],[0.7,0.5],[0.73,0.53],[0.74,0.54],[0.72,0.56],[0.76,0.54],[0.78,0.55],[0.79,0.57],[0.8,0.565],[0.82,0.57],[0.82,0.59],[0.85,0.59],[0.87,0.58],[0.88,0.57],[0.89,0.59],[0.91,0.605],[0.905,0.545],[0.8,0.59],[0.81,0.6],[0.82,0.61],[0.76,0.61],[0.74,0.6],[0.72,0.62],[0.74,0.64],[0.76,0.65],[0.78,0.65],[0.8,0.66],[0.85,0.65],[0.88,0.64],[0.89,0.66],[0.84,0.665],[0.83,0.68],[0.82,0.69],[0.81,0.7],[0.78,0.69],[0.75,0.67],[0.72,0.68],[0.7,0.7],[0.68,0.72],[0.66,0.71],[0.63,0.72],[0.6,0.72],[0.58,0.72],[0.55,0.71],[0.5,0.7],[0.46,0.69],
[0.29,0.5],[0.27,0.49],[0.25,0.46],[0.24,0.42],[0.24,0.36],[0.25,0.32],[0.28,0.27],[0.3,0.27],[0.35,0.27],[0.4,0.26],[0.45,0.27],[0.5,0.28],[0.53,0.29],[0.56,0.33],[0.6,0.36],[0.63,0.38],[0.66,0.42],[0.68,0.44],[0.69,0.48],[0.7,0.52],[0.71,0.55],[0.715,0.6],[0.72,0.64],[0.69,0.68],[0.65,0.695],[0.52,0.7],[0.44,0.65],[0.4,0.62],[0.34,0.56],[0.3,0.53]
];
const wwPoints = [
[0,0.925],[0.04,0.911],[0.065,0.923],[0.067,1],[0.085,0.955],[0.108,0.95],[0.117,0.96],[0.147,0.957],[0.165,0.968],[0.138,0.913],[0.177,0.912],[0.103,0.905],[0.115,0.885],[0.135,0.88],[0.147,0.885],[0.16,0.885],[0.165,0.89],[0.17,0.89],[0.204,0.892],[0.205,0.875],[0.196,0.865],[0.18,0.87],[0.09,0.86],[0.095,0.845],[0.105,0.85],[0.12,0.845],[0.13,0.86],[0.155,0.865],[0.175,0.845],[0.185,0.85],[0.195,0.855],[0.245,0.857],[0.275,0.835],[0.282,0.835],[0.083,0.805],[0.11,0.8],[0.122,0.82],[0.14,0.81],[0.145,0.795],[0.165,0.8],[0.16,0.79],[0.18,0.8],[0.19,0.82],[0.2,0.81],[0.22,0.82],[0.225,0.825],[0.255,0.81],[0.265,0.82],[0.29,0.81],[0.325,0.81],[0.345,0.82],[0.368,0.82],[0.31,0.79],[0.325,0.77],[0.33,0.775],[0.175,0.77],[0.18,0.755],[0.19,0.75],[0.16,0.75],[0.12,0.75],[0.127,0.74],[0.105,0.733],[0.135,0.74],[0.147,0.735],[0.155,0.73],[0.092,0.7],[0.145,0.7],[0.147,0.68],[0.16,0.678],[0.19,0.665],[0.197,0.67],[0.2,0.68],[0.21,0.69],[0.19,0.72],[0.2,0.72],[0.22,0.66],[0.22,0.65],[0.23,0.64],[0.24,0.66],[0.265,0.635],[0.25,0.62],[0.26,0.6],[0.27,0.59],[0.28,0.58],[0.285,0.565],[0.3,0.55],[0.31,0.545],[0.312,0.497],[0.32,0.49],[0.338,0.48],[0.357,0.476],[0.36,0.47],[0.375,0.45],[0.347,0.44],[0.37,0.45],[0.34,0.52],[0.35,0.5],[0.38,0.5],[0.39,0.47],[0.41,0.45],[0.43,0.41],[0.428,0.395],[0.44,0.395],[0.45,0.39],[0.458,0.36],[0.47,0.35],[0.46,0.35],[0.398,0.337],[0.48,0.33],[0.465,0.315],[0.47,0.31],[0.5,0.315],[0.53,0.32],[0.51,0.29],[0.53,0.285],[0.497,0.28],[0.52,0.295],[0.55,0.28],[0.57,0.28],[0.575,0.26],[0.58,0.24],[0.578,0.235],[0.54,0.215],[0.582,0.215],[0.615,0.21],[0.61,0.19],[0.634,0.19],[0.66,0.175],[0.66,0.165],[0.665,0.165],[0.68,0.15],[0.69,0.185],[0.7,0.19],[0.73,0.19],[0.72,0.165],[0.73,0.17],[0.735,0.15],[0.74,0.15],[0.76,0.17],[0.755,0.16],[0.76,0.09],[0.78,0.155],[0.78,0.135],[0.79,0.18],[0.795,0.178],[0.8,0.15],[0.805,0.13],[0.79,0.105],[0.795,0.11],[0.81,0.12],[0.815,0.125],[0.82,0.13],[0.85,0.14],[0.86,0.125],[0.85,0.1],[0.85,0.063],[0.84,0.185],[0.87,0.19],[0.88,0.165],[0.885,0.165],[0.86,0.175],[0.9,0.14],[0.905,0.15],[0.92,0.14],[0.925,0.13],[0.94,0.11],[0.93,0.1],[0.96,0.09],[0.97,0.067],[0.945,0.055],[1,0.078],[0.97,0.025],[0.965,0],[0.99,0],
[0.745,0.31],[0.76,0.3],[0.775,0.3],[0.79,0.31],[0.76,0.27],[0.78,0.26],[0.79,0.27],[0.8,0.28],[0.81,0.28],[0.815,0.27],[0.81,0.25],[0.82,0.22],[0.815,0.215],[0.8,0.24],[0.77,0.235],[0.785,0.2],[0.75,0.22],[0.75,0.2],[0.73,0.23],[0.74,0.25],[0.72,0.2],[0.71,0.24],[0.78,0.22],[0.8,0.21],[0.75,0.33],[0.74,0.34],[0.75,0.38],[0.73,0.36],[0.72,0.39],[0.72,0.41],[0.705,0.41],[0.7,0.42],[0.69,0.45],[0.69,0.47],[0.67,0.47],[0.665,0.475],[0.64,0.48],[0.65,0.46],[0.63,0.49],[0.61,0.5],[0.635,0.53],[0.6,0.545],[0.6,0.598],[0.57,0.56],[0.55,0.57],[0.53,0.6],[0.53,0.62],[0.51,0.63],[0.52,0.65],[0.49,0.62],[0.485,0.665],[0.48,0.64],[0.45,0.68],[0.44,0.66],[0.44,0.73],[0.43,0.7],[0.41,0.71],[0.41,0.74],[0.39,0.76],[0.37,0.75],[0.35,0.75],[0.34,0.76],[0.32,0.78],[0.3,0.77],[0.28,0.79],[0.25,0.79],[0.23,0.8],[0.22,0.77],[0.205,0.76],[0.2,0.74],[0.21,0.71],[0.22,0.7],[0.23,0.68],[0.25,0.65],[0.27,0.62],[0.29,0.6],[0.31,0.57],[0.33,0.54],[0.35,0.53],[0.37,0.49],[0.4,0.46],[0.42,0.44],[0.45,0.42],[0.48,0.37],[0.5,0.35],[0.53,0.33],[0.55,0.3],[0.58,0.28],[0.61,0.25],[0.63,0.23],[0.66,0.21],[0.69,0.21],[0.72,0.23],[0.73,0.27],[0.73,0.31],[0.72,0.35],[0.7,0.385],[0.67,0.43],[0.63,0.47],[0.58,0.54],[0.54,0.58],[0.5,0.61],[0.46,0.65],[0.42,0.69],[0.38,0.73],[0.31,0.76]
];

const borderColor = '#3a3a3a';
const panelBox = {
  id: 'panelBox',
  afterDraw(chart, args, opts) {
    const { ctx, chartArea: a, scales } = chart;
    ctx.save();
    ctx.strokeStyle = borderColor;
    ctx.lineWidth = 2.5;
    ctx.strokeRect(a.left, a.top, a.right - a.left, a.bottom - a.top);
    ctx.fillStyle = '#000';
    ctx.font = 'bold 42px "Liberation Sans", Arial, sans-serif';
    ctx.textAlign = 'center';
    ctx.textBaseline = 'middle';
    ctx.fillText(opts.text, scales.x.getPixelForValue(opts.x), scales.y.getPixelForValue(opts.y));
    ctx.restore();
  }
};

function toXY(list) {
  return list.map(p => ({ x: p[0], y: p[1] }));
}

function axis(extra) {
  return Object.assign({
    type: 'linear',
    min: -0.05,
    max: 1.05,
    afterBuildTicks(s) { s.ticks = tickValues.map(v => ({ value: v })); },
    border: { display: false },
    grid: { drawOnChartArea: false, tickLength: 10, tickWidth: 3, tickColor: '#333' },
    ticks: {
      autoSkip: false,
      maxRotation: 0,
      padding: 5,
      color: '#1a1a1a',
      font: { family: '"Liberation Sans", Arial, sans-serif', size: 30 },
      callback: v => v.toFixed(2)
    }
  }, extra);
}

function makePanel(id, name, core, halo, edge, points, line, opt) {
  new Chart(document.getElementById(id), {
    type: 'scatter',
    data: {
      datasets: [
        { data: toXY(halo), showLine: true, fill: 'shape', backgroundColor: 'rgba(13,13,13,0.5)', borderWidth: 0, pointRadius: 0, order: 4 },
        { data: toXY(core), showLine: true, fill: 'shape', backgroundColor: '#0d0d0d', borderWidth: 0, pointRadius: 0, order: 3 },
        { data: toXY(edge.concat(points)), pointRadius: 7.5, pointBorderWidth: 1, backgroundColor: 'rgba(0,0,0,0.2)', borderColor: 'rgba(0,0,0,0.32)', order: 2 },
        { data: toXY(line), showLine: true, borderColor: '#6e6e6e', borderWidth: 8, pointRadius: 0, order: 1 }
      ]
    },
    options: {
      responsive: false,
      animation: false,
      layout: { autoPadding: false, padding: { top: opt.top, right: opt.right, left: 0, bottom: 0 } },
      plugins: {
        legend: { display: false },
        tooltip: { enabled: false },
        panelBox: { text: name, x: 0.55, y: opt.titleY }
      },
      scales: {
        x: axis({
          afterFit(s) { s.height = opt.xHeight; s.paddingLeft = 0; s.paddingRight = 0; },
          title: {
            display: opt.showX,
            text: xTitle,
            color: '#111',
            padding: 0,
            font: { family: '"Liberation Sans", Arial, sans-serif', size: 39 }
          }
        }),
        y: axis({ min: -0.048, afterFit(s) { s.width = opt.yWidth; s.paddingTop = 0; s.paddingBottom = 0; } })
      }
    },
    plugins: [panelBox]
  });
}

makePanel('tnb', 'TNB', tnbCore, tnbHalo, tnbEdge, tnbPoints, tnbLine, { top: 1, right: 11, yWidth: 91, xHeight: 49, showX: false, titleY: 0.964 });
makePanel('nba', 'NBA', nbaCore, nbaHalo, nbaEdge, nbaPoints, nbaLine, { top: 1, right: 1, yWidth: 93, xHeight: 111, showX: true, titleY: 0.964 });
makePanel('ww', 'WW', wwCore, wwHalo, wwEdge, wwPoints, wwLine, { top: 1, right: 11, yWidth: 91, xHeight: 49, showX: false, titleY: 0.965 });
</script>
</body>
</html>
